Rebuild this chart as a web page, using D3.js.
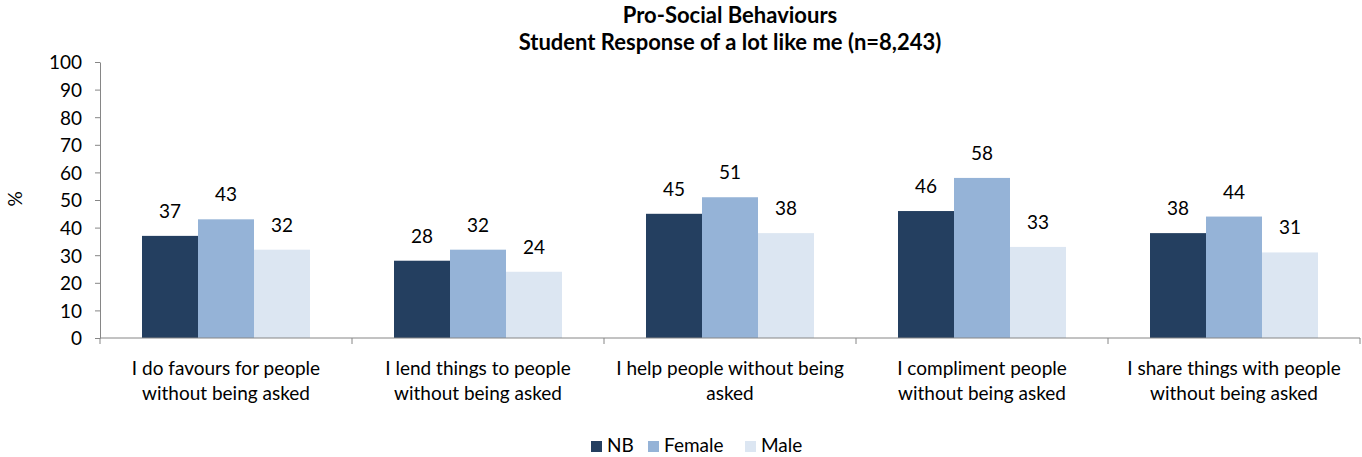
<!DOCTYPE html>
<html><head><meta charset="utf-8">
<script src="https://cdn.jsdelivr.net/npm/d3@7"></script>
<style>body{margin:0;background:#fff;}svg{display:block;font-family:Lato,"Open Sans",sans-serif;}</style>
</head><body><svg id="c" width="1362" height="457"></svg>
<script>
const categories = [
  ["I do favours for people","without being asked"],
  ["I lend things to people","without being asked"],
  ["I help people without being","asked"],
  ["I compliment people","without being asked"],
  ["I share things with people","without being asked"]
];
const seriesNames = ["NB","Female","Male"];
const nbValues = [37,28,45,46,38];
const femaleValues = [43,32,51,58,44];
const maleValues = [32,24,38,33,31];
const yTicks = [0,10,20,30,40,50,60,70,80,90,100];
const colors = ["#243F60","#95B3D7","#DCE6F2"];
const titleLines = ["Pro-Social Behaviours","Student Response of a lot like me (n=8,243)"];

const FS = 19;
const svg = d3.select("#c");
const pLeft=100, pRight=1360, pTop=62, pBottom=338;
const x = d3.scaleBand().domain(d3.range(categories.length)).range([pLeft,pRight]);
const x1 = d3.scaleBand().domain(seriesNames).range([0,x.bandwidth()]).paddingOuter(0.75).paddingInner(0);
const y = d3.scaleLinear().domain([0,100]).range([pBottom,pTop]);
const allSeries = [nbValues,femaleValues,maleValues];

// title
svg.selectAll("text.title").data(titleLines).join("text").attr("class","title")
  .attr("x",730).attr("y",(d,i)=>22.5+i*27).attr("text-anchor","middle")
  .attr("font-weight","bold").attr("font-size",22).attr("fill","#000").text(d=>d);

// y axis
const yAxis = svg.append("g").attr("transform",`translate(${pLeft},0)`)
  .call(d3.axisLeft(y).tickValues(yTicks).tickSize(5).tickSizeOuter(0).tickPadding(13));
yAxis.select(".domain").attr("stroke","#868686");
yAxis.selectAll(".tick line").attr("stroke","#868686");
yAxis.selectAll("text").attr("font-size",FS).attr("fill","#000").attr("font-family","Lato").attr("dy","0.36em");

svg.append("text").attr("transform","translate(22,199) rotate(-90)")
  .attr("text-anchor","middle").attr("font-size",FS).text("%");

// bars
seriesNames.forEach((s,si)=>{
  const vals = allSeries[si];
  svg.append("g").selectAll("rect").data(vals).join("rect")
    .attr("x",(d,i)=>x(i)+x1(s)).attr("width",x1.bandwidth())
    .attr("y",d=>y(d)).attr("height",d=>pBottom-y(d)).attr("fill",colors[si]);
  svg.append("g").selectAll("text").data(vals).join("text")
    .attr("x",(d,i)=>x(i)+x1(s)+x1.bandwidth()/2).attr("y",d=>y(d)-18)
    .attr("text-anchor","middle").attr("font-size",FS).attr("fill","#000").text(d=>d);
});

// x axis
const xg = svg.append("g");
xg.append("line").attr("x1",pLeft).attr("x2",pRight).attr("y1",pBottom).attr("y2",pBottom).attr("stroke","#868686");
const bounds = d3.range(categories.length+1).map(i=> i<categories.length ? x(i) : x(i-1)+x.bandwidth());
xg.selectAll("line.t").data(bounds).join("line").attr("class","t")
  .attr("x1",d=>d).attr("x2",d=>d).attr("y1",pBottom).attr("y2",pBottom+6).attr("stroke","#868686");
categories.forEach((lines,i)=>{
  const t = svg.append("text").attr("text-anchor","middle").attr("font-size",FS).attr("fill","#000");
  lines.forEach((ln,j)=>t.append("tspan").attr("x",x(i)+x.bandwidth()/2).attr("y",375+j*24.5).text(ln));
});

// legend
const legendX = [591,648,745];
const lg = svg.append("g");
seriesNames.forEach((s,i)=>{
  lg.append("rect").attr("x",legendX[i]).attr("y",441).attr("width",11).attr("height",11).attr("fill",colors[i]);
  lg.append("text").attr("x",legendX[i]+16).attr("y",452).attr("font-size",FS).text(s);
});
</script></body></html>
